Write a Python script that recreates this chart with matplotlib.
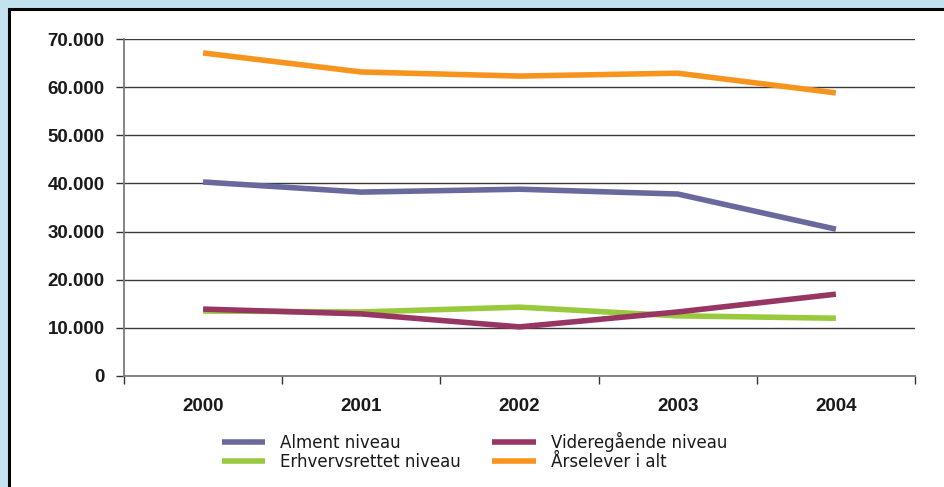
import matplotlib
matplotlib.use("Agg")
import matplotlib.pyplot as plt
from matplotlib.patches import Rectangle
from matplotlib.ticker import FixedLocator, FuncFormatter

years = ["2000", "2001", "2002", "2003", "2004"]
alment = [40300, 38200, 38800, 37800, 30500]
erhverv = [13500, 13300, 14300, 12500, 12000]
videregaaende = [13900, 12900, 10200, 13300, 17000]
aarselever = [67100, 63150, 62300, 62900, 58800]

series = [
    ("Alment niveau", alment, "#6a699d"),
    ("Erhvervsrettet niveau", erhverv, "#99c93c"),
    ("Videregående niveau", videregaaende, "#983663"),
    ("Årselever i alt", aarselever, "#f7941e"),
]

fig = plt.figure(figsize=(9.44, 4.87), dpi=100)
fig.patch.set_facecolor("#c3e2ef")

# white panel with a black frame on top and left
W, H = 944, 487
panel = Rectangle((9 / W, -0.01), 1.0, 1.01 - 9 / H, transform=fig.transFigure,
                  facecolor="white", edgecolor="black", linewidth=2.2, zorder=-5)
fig.patches.append(panel)

ax = fig.add_axes([124 / W, 1 - 376 / H, (915 - 124) / W, (376 - 39) / H])
ax.set_facecolor("none")
ax.set_zorder(2)

x = list(range(len(years)))
lines = []
for name, vals, col in series:
    ln, = ax.plot(x, vals, color=col, lw=4.0, label=name, solid_capstyle="butt",
                  solid_joinstyle="miter", zorder=3)
    lines.append(ln)

ax.set_xlim(-0.5, len(years) - 0.5)
ax.set_ylim(0, 70000)
ax.yaxis.set_major_locator(FixedLocator(range(0, 70001, 10000)))
ax.yaxis.set_major_formatter(FuncFormatter(lambda v, p: f"{int(v):,}".replace(",", ".")))
ax.grid(axis="y", color="#3a3a3a", lw=1.0, zorder=1)

ax.set_xticks(x)
ax.set_xticklabels(years)
ax.set_xticks([i - 0.5 for i in range(len(years) + 1)], minor=True)
ax.tick_params(axis="x", which="major", length=0, pad=16)
ax.tick_params(axis="x", which="minor", length=6, width=1.0, color="#333333",
               direction="out")
ax.tick_params(axis="y", length=6, width=1.0, color="#333333", pad=8)

for lab in ax.get_xticklabels() + ax.get_yticklabels():
    lab.set_fontfamily("Liberation Sans")
    lab.set_fontweight("bold")
    lab.set_fontsize(13.5)
    lab.set_color("#1a1a1a")

for side in ("top", "right"):
    ax.spines[side].set_visible(False)
ax.spines["left"].set_color("#7a7a7a")
ax.spines["bottom"].set_color("#7a7a7a")
ax.spines["left"].set_linewidth(1.3)
ax.spines["bottom"].set_linewidth(1.3)

leg = fig.legend(handles=lines, loc="upper left", bbox_to_anchor=(215 / W, 1 - 425 / H),
                 ncol=2, frameon=False, prop={"family": "DejaVu Sans", "size": 12},
                 handlelength=2.6, handletextpad=0.9, columnspacing=1.9,
                 labelspacing=0.05, borderaxespad=0)
leg.set_zorder(3)
for t in leg.get_texts():
    t.set_color("#1a1a1a")

fig.savefig("out.png", dpi=100)
